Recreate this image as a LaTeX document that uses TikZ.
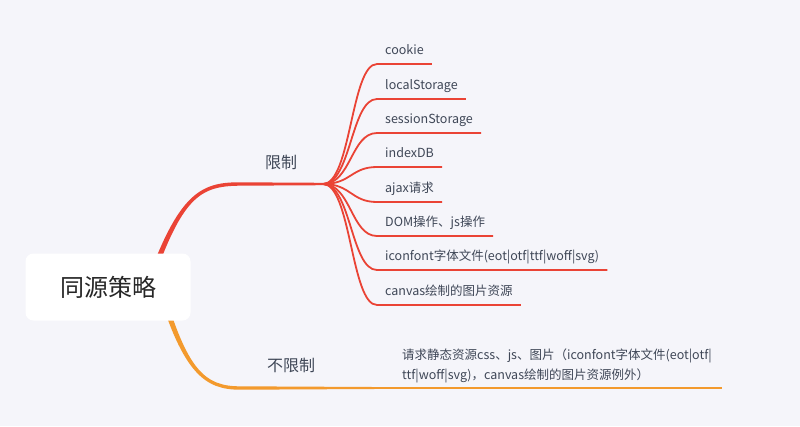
\documentclass[tikz,border=0pt]{standalone}
\usepackage{fontspec}
\setmainfont{Noto Sans CJK SC}
\usepackage{tikz}
\usetikzlibrary {
  positioning,
  backgrounds,
}
\definecolor{paper}{HTML}{F5F5FA}
\definecolor{ink}{HTML}{3F4757}
\definecolor{limred}{HTML}{EA4335}
\definecolor{freeorange}{HTML}{F39A2D}
\tikzset{
  root/.style = {
    rectangle,
    rounded corners = 8pt,
    fill = white,
    minimum width = 165pt,
    minimum height = 67pt,
    text = black!85,
    font = \fontsize{24}{28}\selectfont
  },
  branch/.style = {
    text = ink,
    font = \fontsize{16}{19}\selectfont
  },
  leaf/.style = {
    anchor = south west,
    inner xsep = 8pt,
    inner ysep = 6pt,
    text height = 10pt,
    text depth = 3pt,
    text = ink,
    font = \fontsize{12.5}{20}\selectfont
  },
  note/.style = {
    anchor = south west,
    inner xsep = 10pt,
    inner ysep = 5pt,
    align = left,
    text = ink,
    font = \fontsize{12.5}{20}\selectfont
  },
  twig/.style = {
    line width = 1.8pt,
    color = limred
  },
}
\newcommand{\twig}[1]{
  \draw[twig] (hub) .. controls +(28,0) and +(-26,0) .. (#1.south west) -- (#1.south east);
}

\begin{document}
\begin{tikzpicture}[x = 1pt, y = -1pt]
  \useasboundingbox (0,0) rectangle (800,426);
  \node[root] (R) at (108,287) {同源策略};
  \coordinate (hub) at (323,184);
  \coordinate (free) at (392,388);
  \node[branch] (lim) at (281,162) {限制};
  \node[branch] (unlim) at (291,365) {不限制};
  \node[leaf] (cookie) at (377,64) {cookie};
  \node[leaf] (local) at (377,99) {localStorage};
  \node[leaf] (session) at (377,133) {sessionStorage};
  \node[leaf] (idb) at (377,167) {indexDB};
  \node[leaf] (ajax) at (377,202) {ajax请求};
  \node[leaf] (dom) at (377,236) {DOM操作、js操作};
  \node[leaf] (font) at (377,270) {iconfont字体文件(eot|otf|ttf|woff|svg)};
  \node[leaf] (canvas) at (377,305) {canvas绘制的图片资源};
  \node[note] (static) at (free) {请求静态资源css、js、图片（iconfont字体文件(eot|otf|\\ttf|woff|svg)，canvas绘制的图片资源例外）};
  \twig{cookie}
  \twig{local}
  \twig{session}
  \twig{idb}
  \twig{ajax}
  \twig{dom}
  \twig{font}
  \twig{canvas}
  \draw[freeorange, line width = 1.8pt] (free) -- (static.south east);
  % tapered trunks, drawn under the root box
  \begin{scope}[on background layer]
    \fill[paper] (0,0) rectangle (800,426);
    \fill[limred] ([xshift = 37pt]R.center) .. controls (178,194) and (200,182) .. (240,182.3)
      -- ([yshift = 1.2pt]hub) -- ([yshift = -1.2pt]hub) -- (240,185.7)
      .. controls (200,186) and (182,196.5) .. ([xshift = 43pt]R.center) -- cycle;
    \fill[freeorange] ([xshift = 49pt]R.center) .. controls (183,373.5) and (205,389.7) .. (240,389.7)
      -- ([yshift = -0.9pt]free) -- ([yshift = 0.9pt]free) -- (240,386.3)
      .. controls (205,386.3) and (187,370.5) .. ([xshift = 55pt]R.center) -- cycle;
  \end{scope}
\end{tikzpicture}
\end{document}
